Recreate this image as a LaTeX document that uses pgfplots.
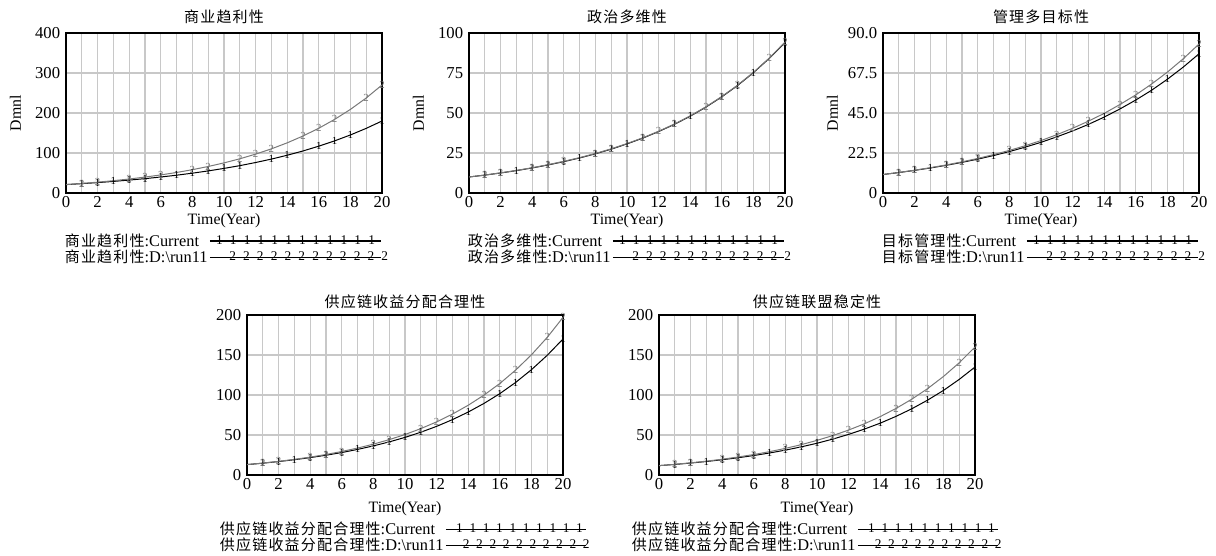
\documentclass[border=0pt]{standalone}
\usepackage{fontspec}
\setmainfont{Liberation Serif}
\newfontfamily\cjk[LetterSpace=8]{Noto Sans CJK SC}
\newcommand\cj[1]{{\cjk\fontsize{9}{10}\selectfont #1}}
\usepackage{pgfplots}
\pgfplotsset{compat=1.18}
\usepackage{pgfplotstable}

\pgfplotstableread{
x a b
0 21 21
1 23.4 23.9
2 26.0 27.1
3 29.0 30.8
4 32.3 35.0
5 35.9 39.8
6 40.0 45.2
7 44.5 51.3
8 49.6 58.3
9 55.2 66.3
10 61.5 75.3
11 68.4 85.5
12 76.2 97.2
13 84.8 110.4
14 94.4 125.4
15 105.1 142.5
16 117.1 161.9
17 130.3 184.0
18 145.1 209.0
19 161.6 237.5
20 180.0 270.0
}\dataA

\pgfplotstableread{
x a b
0 10 10
1 11.19 11.2
2 12.51 12.6
3 14.0 14.1
4 15.66 15.8
5 17.52 17.7
6 19.6 19.8
7 21.9 22.1
8 24.5 24.7
9 27.4 27.6
10 30.7 30.9
11 34.3 34.5
12 38.4 38.6
13 42.9 43.1
14 48.0 48.2
15 53.7 53.9
16 60.1 60.3
17 67.2 67.4
18 75.2 75.4
19 84.1 84.3
20 94.0 94.3
}\dataB

\pgfplotstableread{
x a b
0 10.4 10.4
1 11.5 11.54
2 12.73 12.81
3 14.08 14.23
4 15.57 15.79
5 17.23 17.53
6 19.06 19.46
7 21.08 21.6
8 23.32 23.97
9 25.8 26.6
10 28.5 29.5
11 31.6 32.8
12 34.9 36.4
13 38.6 40.4
14 42.7 44.8
15 47.3 49.8
16 52.3 55.2
17 57.8 61.3
18 64.0 68.0
19 70.8 75.5
20 78.3 83.8
}\dataC

\pgfplotstableread{
x a b
0 13 13
1 14.78 14.89
2 16.81 17.06
3 19.12 19.54
4 21.74 22.39
5 24.73 25.65
6 28.1 29.4
7 32.0 33.7
8 36.4 38.6
9 41.4 44.2
10 47.0 50.6
11 53.5 58.0
12 60.8 66.4
13 69.2 76.1
14 78.7 87.2
15 89.5 99.9
16 101.7 114.4
17 115.7 131.1
18 131.6 150.2
19 149.6 172.0
20 170 197
}\dataD

\pgfplotstableread{
x a b
0 11.7 11.7
1 13.22 13.33
2 14.94 15.2
3 16.89 17.32
4 19.08 19.74
5 21.56 22.5
6 24.37 25.6
7 27.54 29.2
8 31.12 33.3
9 35.17 37.9
10 39.7 43.3
11 44.9 49.3
12 50.8 56.2
13 57.4 64.0
14 64.8 73.0
15 73.3 83.2
16 82.8 94.8
17 93.6 108.0
18 105.7 123.1
19 119.5 140.3
20 135 160
}\dataE

% legend line: length, count, offset, spacing, digit
\newcommand\legline[5]{%
  \draw[black,line width=0.7pt] (0pt,0pt) -- (#1,0pt);
  \foreach \k in {0,...,\numexpr#2-1\relax}{%
    \node[font=\fontsize{8}{8}\selectfont,inner sep=0pt,black] at ({#3+\k*#4},0pt) {#5};}%
}

\definecolor{gridc}{RGB}{200,200,200}
\definecolor{serB}{RGB}{120,120,120}

\pgfplotsset{
  vstyle/.style={
    scale only axis, width=189.6pt, height=96pt,
    xmin=0, xmax=20, ymin=0,
    xtick={0,2,...,20}, minor x tick num=1,
    grid=both,
    major grid style={draw=gridc, line width=0.8pt},
    minor grid style={draw=gridc, line width=0.8pt},
    axis line style={line width=0.9pt, black},
    tick style={draw=none},
    tick label style={font=\fontsize{10}{10}\selectfont},
    xticklabel style={yshift=1.5pt},
    /pgf/number format/assume math mode=true,
    label style={font=\fontsize{9.5}{10}\selectfont},
    xlabel={Time(Year)},
    title style={font=\cjk\fontsize{9}{10}\selectfont, anchor=center, yshift=-6pt},
    legend plot pos=right,
    legend cell align=left,
    legend image post style={xshift=-14pt},
    legend style={draw=none, fill=none, inner sep=0pt, row sep=-1.2pt,
      font=\fontsize{9.8}{10}\selectfont, anchor=north west,
      /tikz/column sep=0pt,
      nodes={inner sep=1pt}},
  },
  topstyle/.style={
    vstyle,
    ylabel={Dmnl},
    ylabel style={at={(axis description cs:-0.16,0.5)}, anchor=center},
    xlabel style={at={(axis description cs:0.5,-0.17)}, anchor=center},
    title style={at={(0.5,1.1)}},
    legend style={at={(axis description cs:-0.01,-0.24)}},
  },
  botstyle/.style={
    vstyle,
    xlabel style={at={(axis description cs:0.5,-0.21)}, anchor=center},
    title style={at={(0.5,1.08)}},
    legend style={at={(axis description cs:-0.092,-0.278)}},
  },
  sA/.style={black, line width=0.6pt, mark=text, text mark={1}, text mark as node=true,
    text mark style={font=\fontsize{6.5}{6.5}\selectfont, inner sep=0pt, black},
    mark indices={2,3,4,5,6,7,8,9,10,11,12,14,15,17,18,19,21}, forget plot},
  sB/.style={serB, line width=0.6pt, mark=text, text mark={2}, text mark as node=true,
    text mark style={font=\fontsize{6.5}{6.5}\selectfont, inner sep=0pt, serB},
    mark indices={2,3,5,6,7,9,10,12,13,14,16,17,18,20,21}, forget plot},
}

\begin{document}
\begin{tikzpicture}
\useasboundingbox (0,0) rectangle (729.6pt,333pt);

% Panel 1
\begin{axis}[topstyle, at={(39.6pt,217.2pt)}, anchor=south west,
  ymax=400, ytick={0,100,...,400}, title={商业趋利性}]
\addplot[sA] table[x=x,y=a]{\dataA};
\addplot[sB] table[x=x,y=b]{\dataA};
\addlegendimage{legend image code/.code={\legline{103pt}{12}{3.6pt}{8.3pt}{1}}}
\addlegendentry{\cj{商业趋利性}:Current}
\addlegendimage{legend image code/.code={\legline{103pt}{12}{11.5pt}{8.3pt}{2}}}
\addlegendentry{\cj{商业趋利性}:D:\textbackslash run11}
\end{axis}

% Panel 2
\begin{axis}[topstyle, at={(281.4pt,217.2pt)}, anchor=south west,
  ymax=100, ytick={0,25,...,100}, title={政治多维性}]
\addplot[sA] table[x=x,y=a]{\dataB};
\addplot[sB] table[x=x,y=b]{\dataB};
\addlegendimage{legend image code/.code={\legline{103pt}{12}{3.6pt}{8.3pt}{1}}}
\addlegendentry{\cj{政治多维性}:Current}
\addlegendimage{legend image code/.code={\legline{103pt}{12}{11.5pt}{8.3pt}{2}}}
\addlegendentry{\cj{政治多维性}:D:\textbackslash run11}
\end{axis}

% Panel 3
\begin{axis}[topstyle, at={(529.8pt,217.2pt)}, anchor=south west,
  ymax=90, ytick={0,22.5,45,67.5,90}, yticklabels={0,22.5,45.0,67.5,90.0},
  title={管理多目标性}]
\addplot[sA] table[x=x,y=a]{\dataC};
\addplot[sB] table[x=x,y=b]{\dataC};
\addlegendimage{legend image code/.code={\legline{103pt}{12}{3.6pt}{8.3pt}{1}}}
\addlegendentry{\cj{目标管理性}:Current}
\addlegendimage{legend image code/.code={\legline{103pt}{12}{11.5pt}{8.3pt}{2}}}
\addlegendentry{\cj{目标管理性}:D:\textbackslash run11}
\end{axis}

% Panel 4
\begin{axis}[botstyle, at={(148.2pt,48pt)}, anchor=south west,
  ymax=200, ytick={0,50,...,200}, title={供应链收益分配合理性}]
\addplot[sA] table[x=x,y=a]{\dataD};
\addplot[sB] table[x=x,y=b]{\dataD};
\addlegendimage{legend image code/.code={\legline{84pt}{10}{6pt}{8pt}{1}}}
\addlegendentry{\cj{供应链收益分配合理性}:Current}
\addlegendimage{legend image code/.code={\legline{84pt}{10}{10pt}{8pt}{2}}}
\addlegendentry{\cj{供应链收益分配合理性}:D:\textbackslash run11}
\end{axis}

% Panel 5
\begin{axis}[botstyle, at={(395.4pt,48pt)}, anchor=south west,
  ymax=200, ytick={0,50,...,200}, title={供应链联盟稳定性}]
\addplot[sA] table[x=x,y=a]{\dataE};
\addplot[sB] table[x=x,y=b]{\dataE};
\addlegendimage{legend image code/.code={\legline{84pt}{10}{6pt}{8pt}{1}}}
\addlegendentry{\cj{供应链收益分配合理性}:Current}
\addlegendimage{legend image code/.code={\legline{84pt}{10}{10pt}{8pt}{2}}}
\addlegendentry{\cj{供应链收益分配合理性}:D:\textbackslash run11}
\end{axis}
\end{tikzpicture}
\end{document}
